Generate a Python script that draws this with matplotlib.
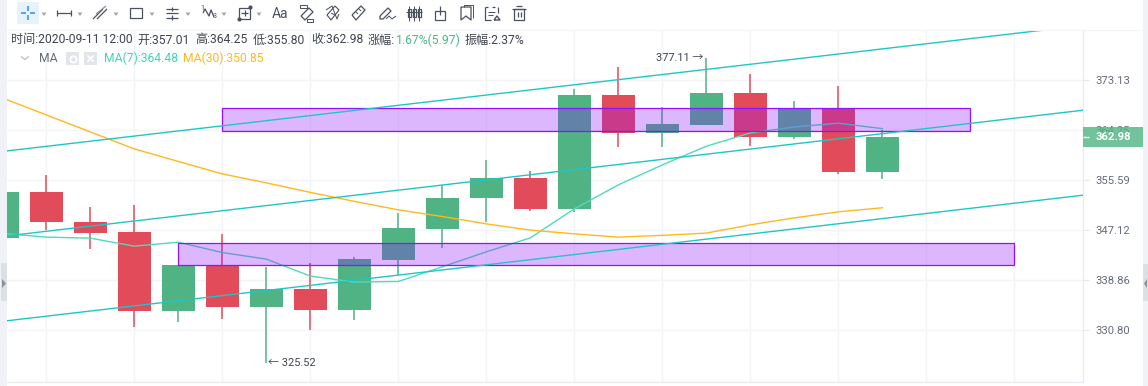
import matplotlib
matplotlib.use("Agg")
import matplotlib.pyplot as plt
from matplotlib.patches import Rectangle, Polygon
from matplotlib.ticker import NullLocator

plt.rcParams['font.family'] = ['Roboto', 'Noto Sans CJK SC', 'DejaVu Sans']

# ---- DATA ----
opens = [345.85, 353.54, 348.52, 346.81, 333.75, 341.34, 334.40, 337.42, 333.91, 342.21,
         347.31, 352.44, 355.94, 350.66, 370.45, 363.78, 365.13, 370.80, 362.98, 367.96, 357.01]
closes = [353.54, 348.52, 346.69, 333.75, 341.34, 334.40, 337.42, 333.91, 342.32, 347.47,
          352.53, 355.94, 350.66, 370.45, 363.78, 365.31, 370.80, 362.98, 367.96, 357.01, 362.98]
highs = [353.54, 356.40, 350.90, 351.30, 341.34, 346.47, 341.01, 341.62, 342.60, 350.00,
         354.74, 359.03, 357.14, 371.46, 375.53, 368.31, 377.11, 374.21, 369.38, 372.06, 364.25]
lows = [345.85, 347.10, 343.92, 331.25, 332.05, 332.53, 325.52, 330.82, 332.31, 339.70,
        344.14, 348.52, 350.33, 350.11, 361.23, 361.23, 365.13, 361.46, 362.73, 356.62, 355.80]
ma7 = [346.54, 345.92, 345.75, 344.42, 345.08, 343.36, 342.28, 339.49, 338.51, 338.61,
       341.01, 343.48, 345.80, 350.66, 354.74, 358.17, 361.41, 363.73, 364.78, 365.44, 364.48]
ma30 = [369.91, 366.90, 363.91, 360.94, 358.77, 356.62, 355.08, 353.46, 351.93, 350.50,
        349.37, 348.14, 347.09, 346.47, 345.92, 346.22, 346.59, 347.97, 349.15, 350.16, 350.85]
price_ticks = [373.13, 364.25, 355.59, 347.12, 338.86, 330.80]
last_price = 362.98

# trend lines as (start index, start price, end index, end price)
trend_lines = [(0.107, 360.59, 24.56, 383.05),
               (0.107, 346.13, 24.56, 367.73),
               (0.107, 332.26, 24.56, 352.98)]
# zones as (start index, end index, low price, high price)
zones = [(5, 22, 364.08, 368.13),
         (4, 23, 341.34, 344.97)]

UP = "#4FB383"
DOWN = "#E24B5A"
GRID = "#F2F4F8"
TEXT = "#3F4450"
ICON = "#4A5060"
PANEL = "#F0F2F8"

fig = plt.figure(figsize=(11.48, 3.86), dpi=100, facecolor="white")

# ---- CHART ----
ax = fig.add_axes([7 / 1148, 1 - 382 / 386, 1076 / 1148, 352 / 386])
ax.set_yscale("log")
ax.set_xlim(0.107, 24.56)
ax.set_ylim(322.6, 382.22)
ax.yaxis.tick_right()
ax.yaxis.set_minor_locator(NullLocator())
ax.set_yticks(price_ticks)
ax.set_yticklabels([f"{p:.2f}" for p in price_ticks], fontsize=8.1, color="#666C7A")
ax.set_xticks(range(1, 25, 2))
ax.set_xticklabels([])
ax.tick_params(axis="x", length=0)
ax.tick_params(axis="y", length=4, width=0.8, color="#E6E9F0", pad=5)
ax.grid(True, color=GRID, linewidth=1)
ax.set_axisbelow(True)
ax.spines["left"].set_visible(False)
ax.spines["top"].set_color(GRID)
for side in ["right", "bottom"]:
    ax.spines[side].set_color("#E6E9F0")

for i in range(len(opens)):
    color = UP if closes[i] >= opens[i] else DOWN
    ax.vlines(i, lows[i], highs[i], color=color, linewidth=1.1, zorder=2)
    low, high = sorted([opens[i], closes[i]])
    ax.bar(i, high - low, bottom=low, width=0.75, color=color, linewidth=0, zorder=3)

ax.plot(range(len(ma7)), ma7, color="#4FDBBB", linewidth=1.0, zorder=4)
ax.plot(range(len(ma30)), ma30, color="#FFB81F", linewidth=1.0, zorder=4)

for x0, x1, low, high in zones:
    ax.add_patch(Rectangle((x0, low), x1 - x0, high - low, facecolor="#9013FE", alpha=0.3,
                           linewidth=0, zorder=5))
    ax.add_patch(Rectangle((x0, low), x1 - x0, high - low, facecolor="none", edgecolor="#9013FE",
                           linewidth=0.9, zorder=6))

for x0, p0, x1, p1 in trend_lines:
    ax.plot([x0, x1], [p0, p1], color="#1FC6C6", linewidth=1.0, zorder=7)

high_i = highs.index(max(highs))
low_i = lows.index(min(lows))
ax.annotate(f"{highs[high_i]:.2f} →", (high_i, highs[high_i]), xytext=(-2.2, 0),
            textcoords="offset points", ha="right", va="center", fontsize=7.9, color=TEXT, zorder=8)
ax.annotate(f"← {lows[low_i]:.2f}", (low_i, lows[low_i]), xytext=(1.5, 0),
            textcoords="offset points", ha="left", va="center", fontsize=7.9, color=TEXT, zorder=8)

# ---- PAGE PARTS, in pixels ----
ui = fig.add_axes([0, 0, 1, 1], zorder=10)
ui.set_xlim(0, 1148)
ui.set_ylim(386, 0)
ui.axis("off")
ui.patch.set_alpha(0)


def line(xs, ys, color=ICON, lw=0.9):
    ui.plot(xs, ys, color=color, linewidth=lw, solid_capstyle="butt")


def box(x, y, w, h, **kw):
    ui.add_patch(Rectangle((x, y), w, h, linewidth=kw.pop("linewidth", 0), **kw))


box(0, 0, 7, 386, facecolor=PANEL)
box(1143, 0, 5, 386, facecolor=PANEL)
box(1, 263, 6, 38, facecolor="#DCDFE4")
box(1143, 264, 5, 37, facecolor="#DCDFE4")
ui.add_patch(Polygon([(2, 279), (2, 288), (6, 283.5)], facecolor="#8A8F9B"))
ui.add_patch(Polygon([(1147, 279), (1147, 288), (1144, 283.5)], facecolor="#8A8F9B"))

# last price tag
box(1083, 127, 60, 19.7, facecolor=UP, alpha=0.8)
line([1083, 1089], [137, 137], color="white", lw=1)
ui.text(1096, 137, f"{last_price:.2f}", color="white", fontsize=8.1, fontweight="bold", va="center")

# header texts
header = [(11, "时间:2020-09-11 12:00", TEXT), (137, "开:357.01", TEXT), (195, "高:364.25", TEXT),
          (253, "低:355.80", TEXT), (311, "收:362.98", TEXT), (368, "涨幅:", TEXT),
          (396, "1.67%(5.97)", "#4DB68A"), (465, "振幅:2.37%", TEXT)]
for x, label, color in header:
    ui.text(x, 40, label, color=color, fontsize=8.7, va="center")
line([21, 25, 29], [56.5, 59.5, 56.5], color="#B8BCC6")
ui.text(39, 58, "MA", color="#666C7A", fontsize=8.7, va="center")
box(66, 52, 13, 13, facecolor="#E3E5EA")
box(84, 52, 13, 13, facecolor="#E3E5EA")
ui.plot([72.5], [58.5], marker="o", markersize=4.5, markerfacecolor="#E3E5EA", markeredgecolor="white", markeredgewidth=1.3)
line([87.5, 93.5], [55.5, 61.5], color="white", lw=1.3)
line([87.5, 93.5], [61.5, 55.5], color="white", lw=1.3)
ui.text(104, 58, "MA(7):364.48", color="#3FD5B5", fontsize=8.7, va="center")
ui.text(183, 58, "MA(30):350.85", color="#FFB81F", fontsize=8.7, va="center")

# toolbar
box(17, 2, 22, 22, facecolor="#E6F3FC")
line([21, 26], [13, 13], color="#2A8FF0", lw=1.1)
line([30, 35], [13, 13], color="#2A8FF0", lw=1.1)
line([28, 28], [6, 11], color="#2A8FF0", lw=1.1)
line([28, 28], [15, 20], color="#2A8FF0", lw=1.1)
for x in [44, 80, 116, 152, 188, 224, 259]:
    ui.add_patch(Polygon([(x - 2.5, 12.5), (x + 2.5, 12.5), (x, 16)], facecolor="#A4A8B2"))
line([57, 71], [13, 13])
line([57, 57], [10, 16])
line([71, 71], [10, 16])
line([93, 103], [19, 9])
line([97, 107], [19, 9])
line([96, 106], [14, 6], color="#8A8F9B")
box(130, 8, 12, 10, facecolor="none", edgecolor=ICON, linewidth=0.9)
for y in [9, 13, 18]:
    line([166, 178], [y, y])
line([172, 172], [7, 11])
line([172, 172], [15, 20])
line([203, 205, 209, 211, 214], [13, 9, 16, 10, 17])
ui.text(200, 8, "1", color=ICON, fontsize=5, va="center")
ui.text(213, 17, "3", color=ICON, fontsize=5, va="center")
box(239, 8, 11, 11, facecolor="none", edgecolor=ICON, linewidth=0.9)
line([241, 248], [13, 13])
line([244.5, 244.5], [10, 16])
ui.plot([239, 250], [19, 7], linestyle="none", marker="o", markersize=2, color=ICON)
ui.text(272, 14, "Aa", color=ICON, fontsize=10, va="center")
# ruler with end marks
line([301, 309, 313, 305, 301], [16, 8, 12, 20, 16])
box(300, 5, 7, 3, facecolor="none", edgecolor=ICON, linewidth=0.7)
box(307, 19, 6, 3, facecolor="none", edgecolor=ICON, linewidth=0.7)
# capsule
line([327, 335, 339, 331, 327], [15, 6, 10, 20, 15], lw=0.8)
line([326, 332, 337, 339], [10, 6, 19, 14], lw=0.7)
line([331, 335], [13, 15], lw=0.7)
# ruler
line([352, 361, 365, 356, 352], [15, 6, 10, 20, 15])
line([356, 358], [12, 14], lw=0.7)
line([359, 361], [9, 11], lw=0.7)
# pencil with wave
line([380, 388, 391, 383, 380, 380], [16, 8, 11, 19, 19, 16])
line([386, 389, 392, 396], [19, 16, 19, 16], lw=0.7)
# three candles
for x in [409, 414, 419]:
    box(x - 1.5, 9, 3, 8, facecolor="none", edgecolor=ICON, linewidth=0.9)
    line([x, x], [6, 21], lw=0.7)
line([406, 422], [12, 12], lw=0.7)
# lock
box(435, 11, 10, 9, facecolor="none", edgecolor=ICON, linewidth=0.9)
line([440, 440], [6, 15])
# bookmark
line([461, 461, 466, 471, 471, 461], [7, 20, 16, 20, 7, 7])
line([464, 464, 473, 473], [7, 5, 5, 18], lw=0.7)
# calendar
line([485, 485, 491], [7, 20, 20])
line([485, 488], [7, 7])
line([492, 495], [7, 7])
line([498, 498], [7, 13])
line([488, 495], [12, 12], lw=0.7)
line([488, 493], [15, 15], lw=0.7)
line([494, 497, 500, 494], [20, 16, 20, 20], lw=1.0)
# trash
line([514, 514, 524, 524, 514], [9, 20, 20, 9, 9])
line([512, 526], [9, 9])
line([516, 522], [6, 6])
line([518, 518], [12, 17])
line([521, 521], [12, 17])
line([7, 1143], [29.5, 29.5], color=GRID, lw=0.8)

fig.savefig("out.png", dpi=100)
